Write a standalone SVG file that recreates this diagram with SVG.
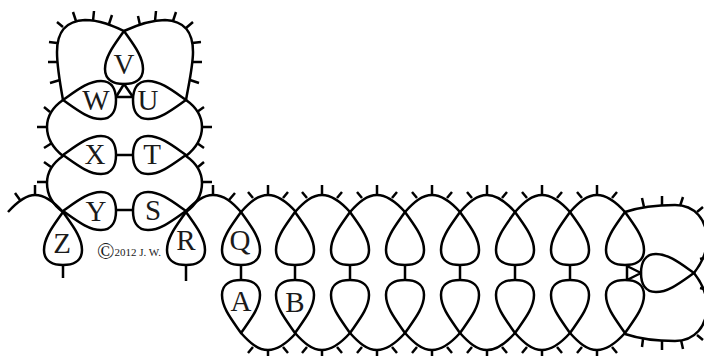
<svg xmlns="http://www.w3.org/2000/svg" width="704" height="356" viewBox="0 0 704 356">
<style>
.l{fill:none;stroke:#000;stroke-width:2.5;stroke-linecap:butt;stroke-linejoin:round}
.t{font-family:"Liberation Serif","Times New Roman",serif;font-size:29px;fill:#1a1a1a;text-anchor:middle}
.c{font-family:"Liberation Serif","Times New Roman",serif;font-size:11px;fill:#1a1a1a}
</style>
<defs>
<path id="drop" class="l" d="M0 0C9 13 19 25 19 38C19 50 9 53 0 53C-9 53-19 50-19 38C-19 25-9 13 0 0Z"/>
<path id="arcT" class="l" d="M0 0C9-10 17-17 27-17C37-17 46-10 55 0"/>
<path id="arcB" class="l" d="M0 0C9 10 17 17 27 17C37 17 46 10 55 0"/>
<path id="tickT" class="l" d="M27-17V-27M7-20L12-14M47-20L42-14"/>
<path id="tickB" class="l" d="M27 17V27M7 20L12 14M47 20L42 14"/>
</defs>
<rect width="704" height="356" fill="#fff"/>
<g id="connectors">
<path class="l" d="M117 97H133M116 97L124 84L133 97M117 155H133M117 210H133"/>
<path class="l" d="M63 265V278M186 265V281"/>
<path class="l" d="M241 265V280M295 265V280M350 265V280M405 265V280M460 265V280M515 265V280M570 265V280"/>
<path class="l" d="M627 265V280M627 266L641 273L627 280"/>
<path class="l" d="M8 212C18 201 26 195 35 195C46 195 55 203 63 212"/>
<path class="l" d="M186 211C195 202 203 195 213 195C224 195 232 202 241 212"/>
<path class="l" d="M35 195V185M15 193L20 200M213 195V185M235 193L229 200"/>
<use href="#arcT" x="241" y="212"/><use href="#arcT" x="295" y="212"/><use href="#arcT" x="350" y="212"/><use href="#arcT" x="405" y="212"/><use href="#arcT" x="460" y="212"/><use href="#arcT" x="515" y="212"/><use href="#arcT" x="570" y="212"/>
<use href="#tickT" x="241" y="212"/><use href="#tickT" x="295" y="212"/><use href="#tickT" x="350" y="212"/><use href="#tickT" x="405" y="212"/><use href="#tickT" x="460" y="212"/><use href="#tickT" x="515" y="212"/><use href="#tickT" x="570" y="212"/>
<use href="#arcB" x="241" y="333"/><use href="#arcB" x="295" y="333"/><use href="#arcB" x="350" y="333"/><use href="#arcB" x="405" y="333"/><use href="#arcB" x="460" y="333"/><use href="#arcB" x="515" y="333"/><use href="#arcB" x="570" y="333"/>
<use href="#tickB" x="241" y="333"/><use href="#tickB" x="295" y="333"/><use href="#tickB" x="350" y="333"/><use href="#tickB" x="405" y="333"/><use href="#tickB" x="460" y="333"/><use href="#tickB" x="515" y="333"/><use href="#tickB" x="570" y="333"/>
<path class="l" d="M63 212C52 204 47 194 47 183C47 172 53 163 63 156C53 148 47 138 47 127C47 116 53 107 63 100"/>
<path class="l" d="M186 212C197 204 202 194 202 183C202 172 196 163 186 156C196 148 202 138 202 127C202 116 196 107 186 100"/>
<path class="l" d="M37 182H47M44 162L51 167M37 127H47M44 107L50 112M44 148L52 143M212 182H202M204 162L198 167M212 127H202M204 107L197 112M204 148L197 143"/>
<path class="l" d="M63 100C59 78 57 65 57 52C57 32 65 21 85 20C100 20 113 26 124 31"/>
<path class="l" d="M186 100C190 78 193 65 193 52C193 32 185 21 165 20C150 20 135 26 124 31"/>
<path class="l" d="M57 22L63 27M73 12L76 21M94 11L93 21M112 15L109 24M49 42L57 43M48 62L57 62M50 83L60 80M138 16L140 25M156 11L155 21M176 12L173 21M193 22L186 28M201 42L192 43M202 62L193 62M199 83L190 80"/>
<path class="l" d="M625 212C640 207 660 205 675 205C695 205 707 220 707 240C707 252 701 264 694 273"/>
<path class="l" d="M625 334C640 339 660 341 675 341C695 341 707 326 707 306C707 294 701 282 694 273"/>
<path class="l" d="M642 198L644 207M662 196V205M683 197L680 206M697 212L703 207M700 259L704 258M700 288L704 289M697 335L703 340M643 339L642 347M662 341V350M681 340L683 349"/>
</g>
<g id="node-V"><use href="#drop" transform="translate(124 31)"/><text class="t" x="124" y="74">V</text></g>
<g id="node-W"><use href="#drop" transform="translate(63 100) rotate(-90)"/><text class="t" x="96" y="110">W</text></g>
<g id="node-U"><use href="#drop" transform="translate(186 100) rotate(90)"/><text class="t" x="148" y="110">U</text></g>
<g id="node-X"><use href="#drop" transform="translate(63 155) rotate(-90)"/><text class="t" x="95" y="164">X</text></g>
<g id="node-T"><use href="#drop" transform="translate(186 155) rotate(90)"/><text class="t" x="152" y="164">T</text></g>
<g id="node-Y"><use href="#drop" transform="translate(63 211) rotate(-90)"/><text class="t" x="96" y="221">Y</text></g>
<g id="node-S"><use href="#drop" transform="translate(186 211) rotate(90)"/><text class="t" x="153" y="220">S</text></g>
<g id="node-Z"><use href="#drop" transform="translate(63 212)"/><text class="t" x="62" y="253">Z</text></g>
<g id="node-R"><use href="#drop" transform="translate(186 212)"/><text class="t" x="186" y="250">R</text></g>
<g id="node-Q"><use href="#drop" transform="translate(241 212)"/><text class="t" x="240" y="250">Q</text></g>
<g id="node-A"><use href="#drop" transform="translate(241 333) rotate(180)"/><text class="t" x="241" y="311">A</text></g>
<g id="node-B"><use href="#drop" transform="translate(295 212)"/><use href="#drop" transform="translate(295 333) rotate(180)"/><text class="t" x="295" y="312">B</text></g>
<g id="node-3"><use href="#drop" transform="translate(350 212)"/><use href="#drop" transform="translate(350 333) rotate(180)"/></g>
<g id="node-4"><use href="#drop" transform="translate(405 212)"/><use href="#drop" transform="translate(405 333) rotate(180)"/></g>
<g id="node-5"><use href="#drop" transform="translate(460 212)"/><use href="#drop" transform="translate(460 333) rotate(180)"/></g>
<g id="node-6"><use href="#drop" transform="translate(515 212)"/><use href="#drop" transform="translate(515 333) rotate(180)"/></g>
<g id="node-7"><use href="#drop" transform="translate(570 212)"/><use href="#drop" transform="translate(570 333) rotate(180)"/></g>
<g id="node-8"><use href="#drop" transform="translate(625 212)"/><use href="#drop" transform="translate(625 333) rotate(180)"/></g>
<g id="node-end"><use href="#drop" transform="translate(694 273) rotate(90)"/></g>
<g id="credit"><text class="c" x="97" y="259"><tspan font-size="23">©</tspan><tspan dy="-3">2012 J. W.</tspan></text></g>
</svg>
